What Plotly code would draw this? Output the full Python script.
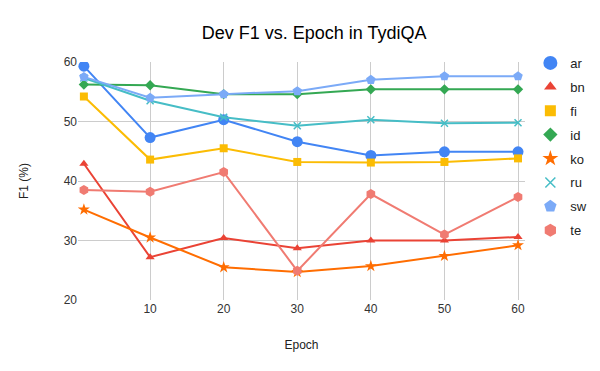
import plotly.graph_objects as go

epochs = [1, 10, 20, 30, 40, 50, 60]
languages = ["ar", "bn", "fi", "id", "ko", "ru", "sw", "te"]

ar = [59.3, 47.3, 50.3, 46.6, 44.3, 44.9, 44.9]
bn = [42.9, 27.2, 30.4, 28.7, 30.0, 30.0, 30.6]
fi = [54.2, 43.6, 45.5, 43.2, 43.1, 43.2, 43.8]
id_ = [56.2, 56.1, 54.6, 54.6, 55.4, 55.4, 55.4]
ko = [35.2, 30.5, 25.5, 24.7, 25.7, 27.4, 29.2]
ru = [57.3, 53.5, 50.7, 49.3, 50.3, 49.7, 49.8]
sw = [57.5, 54.0, 54.6, 55.1, 57.0, 57.6, 57.6]
te = [38.5, 38.2, 41.5, 24.9, 37.8, 31.0, 37.3]

series = [ar, bn, fi, id_, ko, ru, sw, te]
colors = ["#4285F4", "#EA4335", "#FBBC04", "#34A853", "#FF6D01", "#46BDC6", "#7BAAF7", "#F07B72"]
symbols = ["circle", "triangle-up", "square", "diamond", "star", "x-thin", "pentagon", "hexagon"]
sizes = [11, 8, 8, 8, 9, 7, 10, 10]

FONT = "Arial, Liberation Sans, sans-serif"

fig = go.Figure()
for name, ys, c, s, sz in zip(languages, series, colors, symbols, sizes):
    mk = dict(color=c, symbol=s, size=sz)
    if s == "x-thin":
        mk["line"] = dict(color=c, width=1.5)
    fig.add_trace(go.Scatter(x=epochs, y=ys, mode="lines+markers", name=name,
                             line=dict(color=c, width=2), marker=mk,
                             showlegend=False, legendgroup=name))
    # legend entry shows only the marker
    lk = dict(mk)
    lk["size"] = sz + 3
    fig.add_trace(go.Scatter(x=[None], y=[None], mode="markers", name=name,
                             marker=lk, legendgroup=name))

# page body has an 8px margin, so the figure is 592x363
fig.update_layout(
    width=592, height=363,
    title=dict(text="Dev F1 vs. Epoch in TydiQA", x=0.517, xanchor="center",
               y=0.931, yanchor="middle",
               font=dict(family=FONT, size=18, color="#000000")),
    font=dict(family=FONT, size=12, color="#333333"),
    plot_bgcolor="white", paper_bgcolor="white",
    margin=dict(l=70, r=75, t=54, b=71, autoexpand=False),
    legend=dict(x=1.012, y=1.059, xanchor="left", yanchor="top",
                font=dict(size=13, color="#222222"), tracegroupgap=4,
                itemwidth=30, maxheight=320),
    xaxis=dict(title=dict(text="Epoch", font=dict(size=12, color="#222222"), standoff=25),
               range=[0.2, 60.95], tickvals=[10, 20, 30, 40, 50, 60],
               showgrid=True, gridcolor="#cccccc", zeroline=False,
               showline=False, ticks=""),
    yaxis=dict(title=dict(text="F1 (%)", font=dict(size=12, color="#222222"), standoff=32),
               range=[20, 60], tickvals=[20, 30, 40, 50, 60],
               showgrid=True, gridcolor="#cccccc", zeroline=False, ticks=""),
)

fig.write_html("out.html")
